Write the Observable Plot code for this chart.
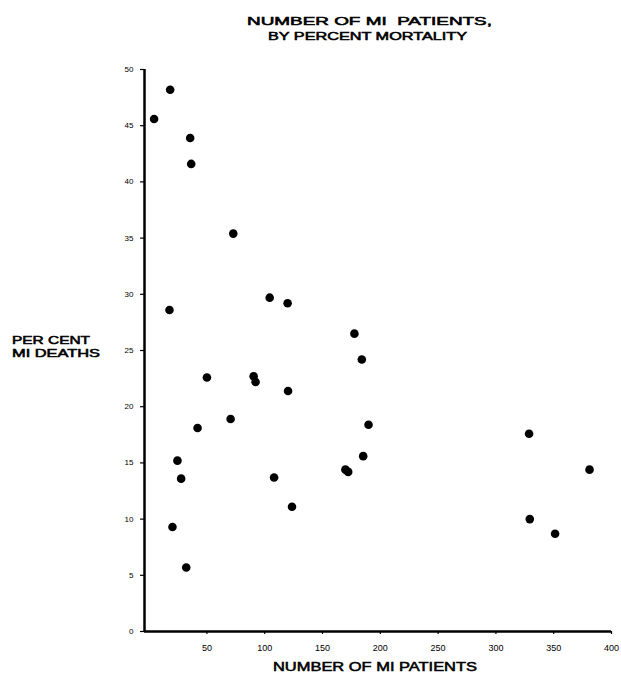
<!DOCTYPE html>
<html><head><meta charset="utf-8">
<script src="https://cdn.jsdelivr.net/npm/d3@7"></script>
<script src="https://cdn.jsdelivr.net/npm/@observablehq/plot@0.6"></script>
<style>body{margin:0;background:#fff}</style>
</head><body><div id="chart"></div>
<script>
const patients = [4.3, 18.2, 35.5, 36.4, 72.8, 17.6, 104.3, 119.8, 50.0, 90.4, 92.1, 120.2, 41.9, 70.5, 24.5, 27.7, 20.2, 32.1, 108.1, 123.6, 177.6, 184.0, 189.8, 328.7, 169.8, 172.2, 185.2, 329.3, 351.2, 381.0];
const deaths   = [45.6, 48.2, 43.9, 41.6, 35.4, 28.6, 29.7, 29.2, 22.6, 22.7, 22.2, 21.4, 18.1, 18.9, 15.2, 13.6, 9.3, 5.7, 13.7, 11.1, 26.5, 24.2, 18.4, 17.6, 14.4, 14.2, 15.6, 10.0, 8.7, 14.4];
const xTicks = [50, 100, 150, 200, 250, 300, 350, 400];
const yTicks = [0, 5, 10, 15, 20, 25, 30, 35, 40, 45, 50];
const titleLines = ["NUMBER OF MI  PATIENTS,", "BY PERCENT MORTALITY"];
const xLabel = "NUMBER OF MI PATIENTS";
const yLabelLines = ["PER CENT", "MI DEATHS"];

const data = patients.map((p, i) => ({patients: p, deaths: deaths[i]}));

const font = "'Liberation Sans', Arial, sans-serif";
const plot = Plot.plot({
  width: 621, height: 673,
  marginTop: 69, marginBottom: 42, marginLeft: 144, marginRight: 10,
  style: {fontFamily: font, background: "#fff", color: "#000"},
  x: {domain: [-4, 400]},
  y: {domain: [0, 50]},
  marks: [
    Plot.axisX({ticks: xTicks, tickSize: 3, tickPadding: 10, fontSize: 9, label: null, strokeWidth: 1.2}),
    Plot.axisY({ticks: yTicks, tickSize: 4, tickPadding: 7, fontSize: 8, label: null, strokeWidth: 1.2}),
    Plot.ruleX([-4], {strokeWidth: 2.5}),
    Plot.ruleY([0], {strokeWidth: 2.5}),
    Plot.dot(data, {x: "patients", y: "deaths", r: 4.3, fill: "#000", stroke: "none"})
  ]
});
document.getElementById("chart").appendChild(plot);

const svg = d3.select(plot);
const addText = (txt, x, y, size, len) => svg.append("text")
  .attr("x", x).attr("y", y).attr("text-anchor", "start")
  .attr("font-family", font).attr("font-size", size).attr("font-weight", "normal")
  .attr("stroke", "#000").attr("stroke-width", 0.55)
  .attr("textLength", len).attr("lengthAdjust", "spacingAndGlyphs")
  .attr("fill", "#000").text(txt);
addText(titleLines[0], 247, 25, 11, 245);
addText(titleLines[1], 268, 40, 11, 199);
addText(xLabel, 273, 671, 13, 204);
addText(yLabelLines[0], 12, 344, 11, 78);
addText(yLabelLines[1], 12, 357, 11, 88);
</script>
</body></html>
